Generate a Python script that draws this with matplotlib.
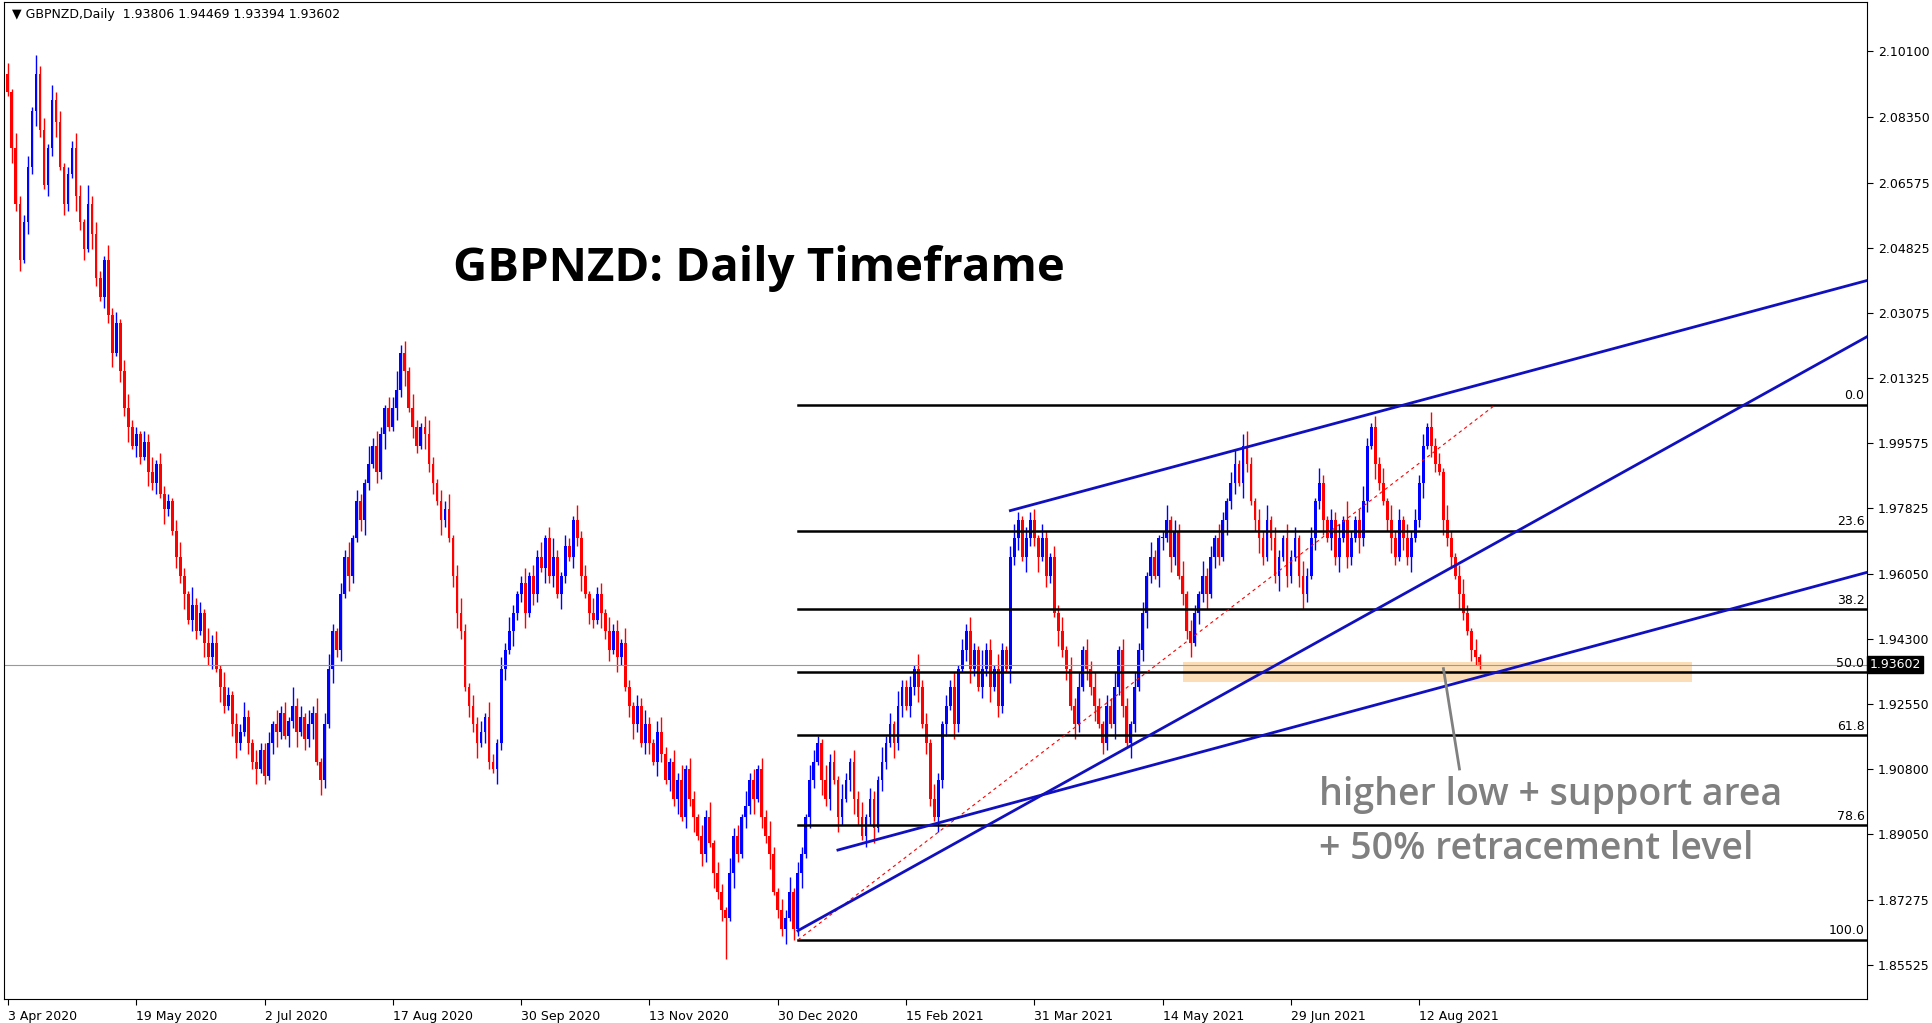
import matplotlib
matplotlib.use("Agg")
import matplotlib.pyplot as plt
from matplotlib.patches import Rectangle

closes = [
20900,20750,20600,20450,20550,20700,20850,20950,20800,20650,20750,20880,20820,20700,20600,20680,20750,20620,20550,20480,20600,20520,20400,20350,20450,20300,20200,20280,20150,20050,20000,19950,
19980,19920,19960,19880,19850,19900,19820,19780,19800,19720,19650,19600,19550,19480,19520,19450,19500,19420,19380,19420,19350,19300,19250,19280,19200,19150,19180,19220,19150,19100,19080,19130,
19060,19150,19200,19180,19230,19170,19210,19250,19180,19220,19160,19200,19230,19100,19050,19200,19350,19450,19400,19550,19650,19600,19700,19800,19750,19850,19900,19950,19880,19980,20050,20000,
20050,20100,20200,20150,20050,20000,19950,20000,19980,19900,19850,19800,19750,19780,19700,19600,19500,19450,19300,19250,19200,19150,19180,19220,19100,19080,19150,19350,19400,19450,19500,19550,
19580,19500,19600,19550,19650,19620,19700,19600,19650,19550,19600,19680,19650,19750,19700,19600,19550,19500,19480,19550,19500,19450,19400,19450,19380,19420,19300,19250,19200,19250,19150,19200,
19150,19100,19180,19120,19050,19100,19000,19050,18950,19080,19000,18950,18900,18850,18950,18880,18800,18750,18700,18680,18800,18900,18850,18950,18980,19050,19000,19080,18950,18900,18850,18750,
18700,18650,18680,18750,18650,18800,18850,18950,19050,19100,19150,19050,19000,19100,19050,18950,19000,19050,19100,19000,18950,18900,18950,19000,18920,19050,19100,19150,19200,19150,19250,19300,
19250,19300,19350,19300,19200,19150,19000,18950,19050,19200,19250,19300,19200,19350,19400,19450,19350,19400,19300,19350,19400,19300,19350,19250,19400,19350,19650,19700,19750,19650,19700,19750,
19700,19650,19700,19600,19650,19500,19450,19400,19350,19250,19200,19300,19400,19350,19300,19250,19200,19150,19250,19200,19300,19400,19250,19150,19200,19300,19400,19500,19600,19650,19600,19700,
19700,19750,19650,19720,19600,19550,19450,19420,19500,19550,19600,19550,19650,19700,19650,19750,19800,19850,19900,19850,19950,19900,19800,19750,19700,19650,19750,19700,19600,19650,19700,19600,
19650,19700,19600,19550,19600,19700,19800,19850,19750,19700,19750,19650,19700,19750,19650,19700,19750,19700,19800,19950,20000,19900,19850,19800,19750,19700,19650,19750,19700,19650,19700,19750,
19850,19950,20000,19950,19900,19880,19750,19700,19650,19600,19550,19500,19450,19400,19380,19360]
first_open = 20950

upper_wicks = ("31422315231423122431523214231342"
               "21324132213421523142314213242132"
               "23142315231424134213241321524213"
               "35231421342132413421323142132421"
               "24132413521321423142314231421324"
               "21342132413213241321423142313242"
               "13241321432142314213241321423142"
               "23142314213241324215231421342132"
               "31421324132413242132413214231421"
               "24132413214231421341342132413214"
               "23142314213241521342132414231423"
               "2314231421342131")
lower_wicks = ("14231324213241321423142132413241"
               "32142314213241321423142134213241"
               "21342132413241421423142134213241"
               "13241321423142134213241321423142"
               "24132142314213241321423142134213"
               "3142132413241321423b142132413241"
               "22413241321423142134213241321423"
               "13241321423142134213241321423142"
               "24132142314213241321423142134213"
               "31421324132413214231421342132413"
               "21342132413241321423142134213241"
               "2413214231421321")

y_ticks = [2.10100,2.08350,2.06575,2.04825,2.03075,2.01325,1.99575,1.97825,1.96050,
           1.94300,1.92550,1.90800,1.89050,1.87275,1.85525]
x_tick_bars = [0,32,64,96,128,160,192,224,256,288,320,352]
x_tick_labels = ["3 Apr 2020","19 May 2020","2 Jul 2020","17 Aug 2020","30 Sep 2020","13 Nov 2020",
                 "30 Dec 2020","15 Feb 2021","31 Mar 2021","14 May 2021","29 Jun 2021","12 Aug 2021"]
fib_levels = ["0.0","23.6","38.2","50.0","61.8","78.6","100.0"]
fib_ratios = [0.0,0.236,0.382,0.5,0.618,0.786,1.0]
fib_high, fib_low = 2.0060, 1.8620
last_price = 1.93602

W, H = 1933, 1023
fig = plt.figure(figsize=(W/100, H/100), dpi=100)
ax = fig.add_axes([0.002, 0.023, 0.964, 0.975])
ax.set_xlim(-1, 463.7)
ax.set_ylim(1.846, 2.1143)

n = len(closes)
opens = [first_open] + closes[:-1]
for i in range(n):
    o = opens[i]/10000; c = closes[i]/10000
    uw = int(upper_wicks[i % len(upper_wicks)], 36)*0.001
    lw = int(lower_wicks[i % len(lower_wicks)], 36)*0.001
    col = "#0000ff" if c >= o else "#ff0000"
    hi = max(o, c) + uw; lo = min(o, c) - lw
    ax.vlines(i, lo, hi, color=col, lw=1.0)
    ax.add_patch(Rectangle((i-0.35, min(o, c)), 0.7, max(abs(c-o), 0.0003), color=col, lw=0))

ax.axhline(last_price, color="#999999", lw=0.8)
ax.add_patch(Rectangle((293, 1.9313), 127, 0.0056, color="#f9c987", alpha=0.6, lw=0, zorder=1))

for lab, r in zip(fib_levels, fib_ratios):
    p = fib_high - r*(fib_high-fib_low)
    ax.plot([197, 463.7], [p, p], color="black", lw=1.8)
    ax.text(463.0, p+0.0007, lab, ha="right", va="bottom", fontsize=9)
ax.plot([197, 371], [fib_low, fib_high], color="red", lw=0.8, ls=(0, (3, 3)))

ax.plot([250, 464], [1.9775, 2.0395], color="#1010c0", lw=2)
ax.plot([197, 464], [1.8645, 2.0245], color="#1010c0", lw=2)
ax.plot([207, 464], [1.8862, 1.961], color="#1010c0", lw=2)

ax.plot([362, 358], [1.9080, 1.9350], color="#808080", lw=2)
ax.text(327, 1.9010, "higher low + support area", fontsize=27, color="#808080",
        fontweight="semibold", family="Open Sans", va="center")
ax.text(327, 1.8865, "+ 50% retracement level", fontsize=27, color="#808080",
        fontweight="semibold", family="Open Sans", va="center")

ax.text(111, 2.0425, "GBPNZD: Daily Timeframe", fontsize=34, fontweight="bold",
        family="Open Sans", va="center")
ax.text(1, 2.1110, "\u25bc GBPNZD,Daily  1.93806 1.94469 1.93394 1.93602", fontsize=9, va="center")

ax.yaxis.tick_right()
ax.set_yticks(y_ticks)
ax.set_yticklabels([f"{v:.5f}" for v in y_ticks], fontsize=9)
ax.set_xticks(x_tick_bars)
ax.set_xticklabels(x_tick_labels, fontsize=9, ha="left")
ax.tick_params(direction="out", length=4)
ax.text(464.2, last_price, f"{last_price:.5f}", fontsize=9, color="white", va="center",
        ha="left", bbox=dict(boxstyle="square,pad=0.15", fc="black", ec="black"), clip_on=False)
for s in ax.spines.values():
    s.set_color("black"); s.set_linewidth(0.8)

fig.savefig("out.png", dpi=100)
